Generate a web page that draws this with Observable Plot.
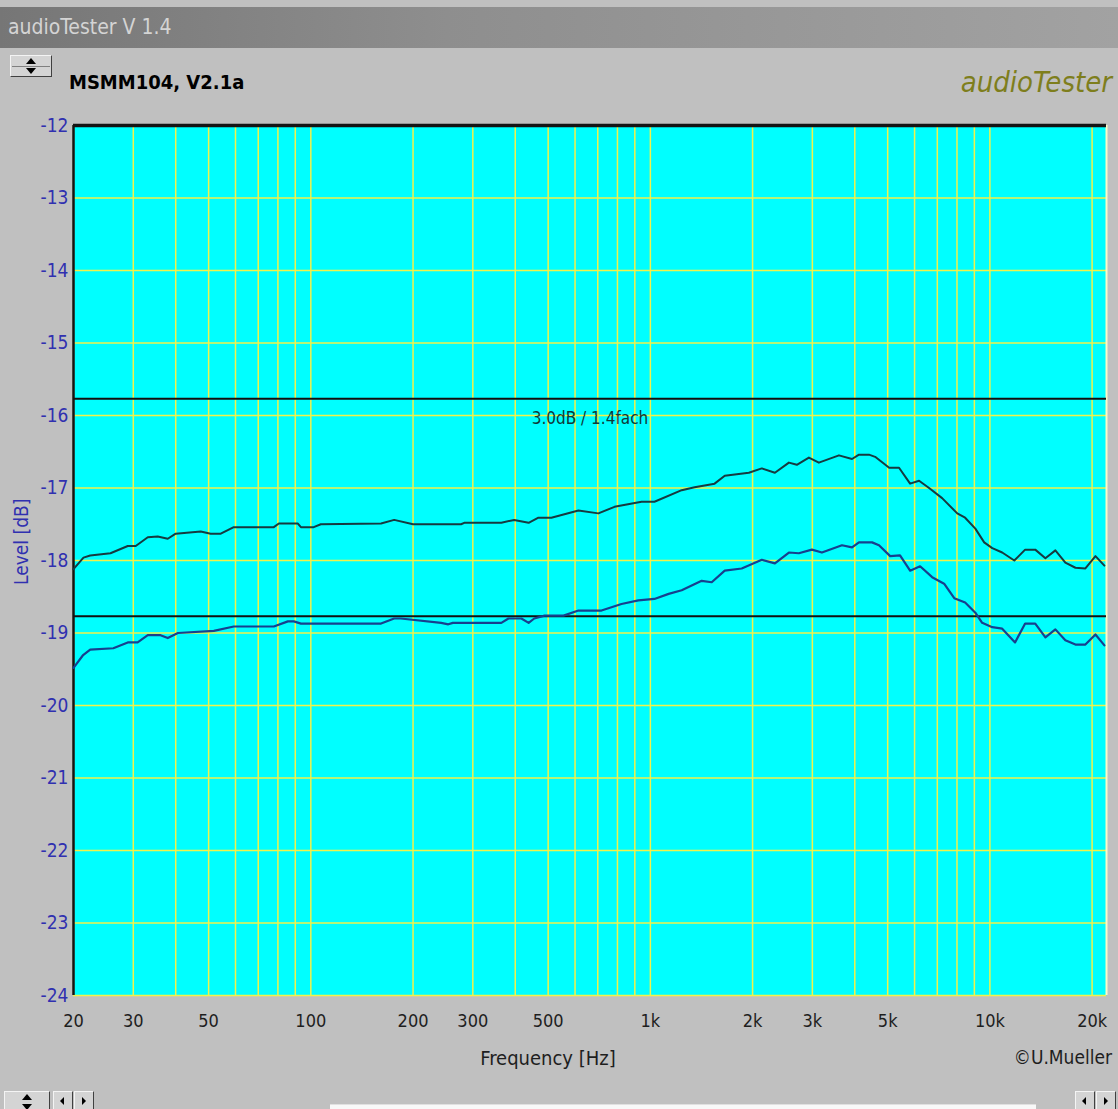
<!DOCTYPE html>
<html>
<head>
<meta charset="utf-8">
<script src="https://cdn.jsdelivr.net/npm/d3@7"></script>
<script src="https://cdn.jsdelivr.net/npm/@observablehq/plot@0.6"></script>
<style>
  html, body { margin: 0; padding: 0; background: #c0c0c0; }
  #wrap { position: relative; width: 1118px; height: 1109px; overflow: hidden; background: #c0c0c0;
          font-family: "Liberation Sans Narrow", "DejaVu Sans Condensed", "Liberation Sans", sans-serif; }
  #titlebar { position: absolute; left: 0; top: 7px; width: 1118px; height: 41px;
              background: linear-gradient(to right, #767676, #8e8e8e 40%, #a2a2a2); }
  #titlebar span { position: absolute; left: 8px; top: 8px; font-size: 21px; color: #d4d4d4; letter-spacing: 0px; }
  .abs { position: absolute; white-space: nowrap; }
  .btn { position: absolute; background: #d4d4d4; border: 1px solid; border-color: #f4f4f4 #404040 #404040 #f4f4f4; box-sizing: border-box; }
  .tri { position: absolute; width: 0; height: 0; }
  #chart { position: absolute; left: 0; top: 0; }
  #chart g[aria-label="y-axis tick label"] { fill: #3030b0; }
</style>
</head>
<body>
<div id="wrap">
  <div id="chart"></div>
  <div id="titlebar"><span>audioTester V 1.4</span></div>
  <!-- top spinner -->
  <div class="btn" style="left:10px;top:55px;width:42px;height:22px;"></div>
  <div class="tri" style="left:26px;top:58px;border-left:5px solid transparent;border-right:5px solid transparent;border-bottom:6px solid #000;"></div>
  <div class="tri" style="left:26px;top:68px;border-left:5px solid transparent;border-right:5px solid transparent;border-top:6px solid #000;"></div>
  <div style="position:absolute;left:12px;top:66px;width:38px;height:1px;background:#808080;"></div>
  <div class="abs" style="left:69px;top:70px;font-size:20px;font-weight:bold;color:#000;">MSMM104, V2.1a</div>
  <div class="abs" style="right:6px;top:65px;font-size:29px;font-style:italic;color:#7e7e1c;">audioTester</div>
  <div class="abs" style="left:10px;top:585px;font-size:19px;line-height:22px;color:#3030b0;transform:rotate(-90deg);transform-origin:0 0;">Level [dB]</div>
  <div class="abs" style="left:548px;top:1046px;font-size:20px;color:#1e1e1e;transform:translateX(-50%);">Frequency [Hz]</div>
  <div class="abs" style="right:6px;top:1046px;font-size:19px;color:#1e1e1e;">©U.Mueller</div>
  <!-- bottom controls -->
  <div class="btn" style="left:4px;top:1091px;width:46px;height:24px;"></div>
  <div class="tri" style="left:22px;top:1094px;border-left:5px solid transparent;border-right:5px solid transparent;border-bottom:6px solid #000;"></div>
  <div class="tri" style="left:22px;top:1104px;border-left:5px solid transparent;border-right:5px solid transparent;border-top:6px solid #000;"></div>
  <div class="btn" style="left:53px;top:1091px;width:20px;height:24px;"></div>
  <div class="tri" style="left:60px;top:1097px;border-top:4px solid transparent;border-bottom:4px solid transparent;border-right:4px solid #000;"></div>
  <div class="btn" style="left:74px;top:1091px;width:20px;height:24px;"></div>
  <div class="tri" style="left:82px;top:1097px;border-top:4px solid transparent;border-bottom:4px solid transparent;border-left:4px solid #000;"></div>
  <div style="position:absolute;left:330px;top:1104px;width:706px;height:10px;background:#f8f8f8;border-top:1px solid #e0e0e0;"></div>
  <div class="btn" style="left:1075px;top:1091px;width:20px;height:24px;"></div>
  <div class="tri" style="left:1082px;top:1097px;border-top:4px solid transparent;border-bottom:4px solid transparent;border-right:4px solid #000;"></div>
  <div class="btn" style="left:1096px;top:1091px;width:20px;height:24px;"></div>
  <div class="tri" style="left:1104px;top:1097px;border-top:4px solid transparent;border-bottom:4px solid transparent;border-left:4px solid #000;"></div>
</div>
<script>
// ---- data ----
const upperFreq = [20, 21.4, 22.4, 25.7, 28.9, 30.5, 33.1, 35.4, 37.9, 40, 47.4, 50.7, 54.3, 59.3, 77.8, 80.5, 91.6, 93.5, 102, 107,
  161, 176, 200, 277, 283, 364, 397, 438, 468, 511, 614, 703, 784, 942, 1028, 1237, 1350, 1546, 1656, 1950,
  2129, 2327, 2559, 2700, 2930, 3135, 3593, 3926, 4115, 4404, 4592, 5050, 5400, 5821, 6186, 6620, 7232, 8013, 8454, 9059,
  9620, 10162, 10870, 11800, 12700, 13600, 14570, 15590, 16680, 17860, 19110, 20460, 21740];
const upperLevel = [-18.12, -17.96, -17.93, -17.90, -17.80, -17.80, -17.68, -17.67, -17.70, -17.63, -17.60, -17.63, -17.63, -17.54, -17.54, -17.49, -17.49, -17.54, -17.54, -17.50,
  -17.49, -17.44, -17.50, -17.50, -17.48, -17.48, -17.44, -17.48, -17.41, -17.41, -17.31, -17.35, -17.26, -17.19, -17.19, -17.03, -16.99, -16.94, -16.83, -16.79,
  -16.73, -16.79, -16.65, -16.68, -16.58, -16.65, -16.55, -16.60, -16.54, -16.54, -16.57, -16.72, -16.72, -16.94, -16.90, -17.00, -17.14, -17.35, -17.41, -17.56,
  -17.75, -17.83, -17.89, -18.00, -17.85, -17.85, -17.97, -17.86, -18.03, -18.10, -18.11, -17.94, -18.07];

const lowerFreq = [20, 21.3, 22.4, 26.2, 28.9, 30.9, 33.1, 36.1, 37.9, 40.6, 51.8, 59.3, 77.8, 85.6, 89.1, 93.5, 161, 176, 184, 242,
  254, 262, 364, 382, 417, 438, 455, 488, 555, 614, 718, 822, 922, 1028, 1132, 1237, 1416, 1516, 1656, 1858,
  2129, 2327, 2559, 2737, 2990, 3201, 3667, 3926, 4115, 4497, 4714, 5085, 5436, 5821, 6229, 6760, 7330, 7853, 8454, 9059,
  9489, 10162, 10870, 11860, 12700, 13600, 14570, 15590, 16680, 17860, 19110, 20460, 21740];
const lowerLevel = [-19.48, -19.31, -19.23, -19.21, -19.13, -19.13, -19.03, -19.03, -19.07, -19.00, -18.97, -18.91, -18.91, -18.84, -18.84, -18.87, -18.87, -18.80, -18.80, -18.86,
  -18.88, -18.86, -18.86, -18.80, -18.80, -18.86, -18.80, -18.76, -18.76, -18.69, -18.69, -18.60, -18.55, -18.53, -18.46, -18.41, -18.28, -18.30, -18.14, -18.11,
  -17.99, -18.04, -17.89, -17.90, -17.85, -17.89, -17.79, -17.82, -17.75, -17.75, -17.79, -17.94, -17.93, -18.14, -18.08, -18.23, -18.32, -18.52, -18.58, -18.72,
  -18.86, -18.92, -18.94, -19.13, -18.87, -18.87, -19.06, -18.95, -19.10, -19.16, -19.16, -19.02, -19.17];

const refLines = [-15.77, -18.77];
const refLabel = "3.0dB / 1.4fach";

const xTickValues = [20, 30, 50, 100, 200, 300, 500, 1000, 2000, 3000, 5000, 10000, 20000];
const xTickLabels = ["20", "30", "50", "100", "200", "300", "500", "1k", "2k", "3k", "5k", "10k", "20k"];
const xGrid = [20, 30, 40, 50, 60, 70, 80, 90, 100, 200, 300, 400, 500, 600, 700, 800, 900,
  1000, 2000, 3000, 4000, 5000, 6000, 7000, 8000, 9000, 10000, 20000];
const yTicks = [-12, -13, -14, -15, -16, -17, -18, -19, -20, -21, -22, -23, -24];

const xDomain = [20, 22050];
const yDomain = [-24, -12];

const upper = upperFreq.map((f, i) => ({f, v: upperLevel[i]}));
const lower = lowerFreq.map((f, i) => ({f, v: lowerLevel[i]}));
const xTicks = xTickValues.map((f, i) => ({f, label: xTickLabels[i]}));

const font = '"Liberation Sans Narrow", "DejaVu Sans Condensed", "Liberation Sans", sans-serif';
const gridColor = "#f2f24a";

const chart = Plot.plot({
  width: 1118,
  height: 1109,
  marginTop: 125,
  marginBottom: 114,
  marginLeft: 73,
  marginRight: 12,
  style: {background: "transparent", fontFamily: font, overflow: "visible"},
  x: {type: "log", domain: xDomain, axis: null},
  y: {domain: yDomain, axis: null},
  marks: [
    Plot.frame({fill: "#00ffff", stroke: null}),
    Plot.ruleX(xGrid, {stroke: gridColor, strokeWidth: 1.5}),
    Plot.ruleY(yTicks, {stroke: gridColor, strokeWidth: 1.5}),
    Plot.ruleX([xDomain[1]], {stroke: "#fbfbc8", strokeWidth: 2}),
    Plot.ruleY([yDomain[1]], {stroke: "#141414", strokeWidth: 3.5}),
    Plot.ruleX([xDomain[0]], {stroke: "#141414", strokeWidth: 2.5}),
    Plot.ruleY(refLines, {stroke: "#111", strokeWidth: 2}),
    Plot.text([refLabel], {x: Math.sqrt(xDomain[0] * xDomain[1]), y: -16.04, text: d => d, fontSize: 17, fill: "#103838"}),
    Plot.line(upper, {x: "f", y: "v", stroke: "#163a40", strokeWidth: 2}),
    Plot.line(lower, {x: "f", y: "v", stroke: "#17408e", strokeWidth: 2.2}),
    Plot.axisY(yTicks, {tickSize: 0, tickPadding: 5, fontSize: 19, tickFormat: d => String(d), label: null}),
    Plot.text(xTicks, {x: "f", text: "label", frameAnchor: "bottom", dy: 31, fontSize: 18, fill: "#1e1e1e"})
  ]
});
document.getElementById("chart").appendChild(chart);
</script>
</body>
</html>
